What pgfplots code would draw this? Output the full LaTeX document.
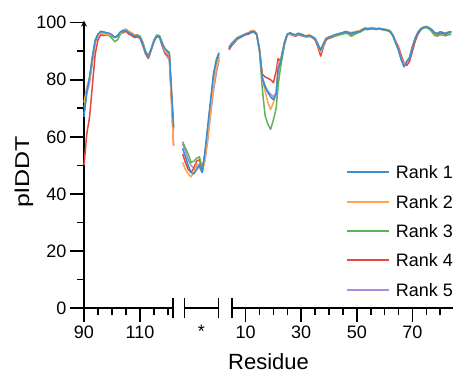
\documentclass[border=0pt]{standalone}
\usepackage{pgfplots}
\pgfplotsset{compat=1.18}
\usepackage{pgfplotstable}
\usepackage{fontspec}
\setmainfont{Liberation Sans}
\definecolor{rankA}{HTML}{3A8DD1}
\definecolor{rankB}{HTML}{FFA552}
\definecolor{rankC}{HTML}{5DB35A}
\definecolor{rankD}{HTML}{E6483F}
\definecolor{rankE}{HTML}{A98FD8}

\pgfplotstableread{
x b o g r p
90 67 72 70 50 68
91 76 77.5 76 61 75
92 81 80 81 67 79
93 88 87 88 78 86
94 93.5 93 94 89 93
95 96 95.5 96 94 95.5
96 97 96.3 96.5 95.8 96.8
97 96.8 96 96 95.5 96.5
98 96.5 96 95.8 95.8 96.3
99 96.3 95.8 95.5 95.5 96
100 95.8 95.5 94.5 95.3 95.5
101 94.8 95 93.3 94.8 94.8
102 95.5 95.5 94 95.2 95.3
103 96.8 96.5 96 96.3 96.5
104 97.2 97.5 97 96.5 97
105 97.3 97.8 97.5 97 97.2
106 96.5 97 96.8 96 96.7
107 96 96.5 96.3 95.5 96
108 95.3 95.8 95.5 94.8 95.2
109 95.5 95.5 95.8 95 95.3
110 95 95 95.3 94.5 94.8
111 92.5 92.8 93.3 92 92.5
112 89.5 89.5 90 89 89.5
113 87.8 88 88.5 87.5 87.8
114 90.5 90.5 91 90.5 90.5
115 93.5 93.5 94 93.5 93.5
116 95.3 95.3 95.7 95.2 95.3
117 95 95 95.5 94.8 94.8
118 92.5 92.5 93 92 91.5
119 90.8 90 90.5 89.5 89
120.5 89.5 88.5 89 88 87
122 63.5 56.8 63 57 62.3
}\segA

\pgfplotstableread{
x b o g r p
0 56 51 58.3 54 57.5
1 53 48.5 56 51 55
2 50 47 54 48.5 52
3 47.5 46 51 47.5 50
4 47 47.5 51.5 49 49
5 48.5 50.5 52.5 51.5 49.5
6 50 49 53 52 50.5
7 47.5 47.5 49 48.5 48
8 55 52 54 53 52
9 64 60 63 62 59
10 73 69 72 71 68
11 82 78 81 80 76
12 87 84 86 85 82
13 89.5 87.5 89 88 87
}\segB

\pgfplotstableread{
x b o g r p
4 91 91.5 91.5 90.5 90.8
5 92.5 92.5 92.8 92 92.2
6 93.5 93.3 93.8 93 93.2
7 94.5 94.5 94.8 94.2 94.3
8 95 95.2 95.3 94.8 94.8
9 95.5 95.6 95.6 95.3 95.3
10 96 96.2 96 95.8 95.8
11 96.3 96.5 96.3 96 96.1
12 96.8 97.2 96.8 96.5 96.6
13 97 97.3 96.8 96.7 96.8
14 96 96.3 95.8 95.8 95.8
15 90.5 90.5 90 90.5 90.5
16 80.5 80.5 77 82 81
17 77.5 76 67.5 81 78
18 75.5 72 64.5 80.5 76
19 74 69.5 62.6 80 75
20 73 72 66 79 74
21 75 75 70 83 75.5
21.7 84 85.5 78 87.5 83
22.5 86 86.5 84 86.3 85.5
24 93 93.5 92.5 93 92.5
25 96 96 95.8 95.8 95.8
26 96.5 96.3 96.3 96 96.2
27 96 95.8 95.8 95.5 95.8
28 95.8 95.8 95.5 95.3 95.5
29 96.3 96.3 96 95.8 96
30 96 96 95.8 95.5 95.8
31 95.5 95.6 95.3 95.2 95.3
32 95.3 95.5 95.3 95 95.2
33 95.5 95.8 95.2 95.3 95.3
34 95 95.2 94.8 94.8 94.8
35 94.5 94.5 94.3 94 94.3
36 92.5 92.5 92.3 91.5 92.3
37 90.3 89.5 90.5 88.3 89.8
38 92.5 92 92.8 91.5 92.3
39 94.5 94.3 94.5 94 94.3
40 95 95 94.8 94.5 94.8
41 95.3 95.3 95 94.8 95
42 95.7 95.8 95.3 95.3 95.5
43 96 96 95.5 95.6 95.8
44 96.3 96.3 95.8 96 96
45 96.5 96.6 96 96.3 96.3
46 96.9 97 96.3 96.6 96.7
47 96.5 96.8 96 96.3 96.5
48 96.3 96.5 95.2 96 96.2
49 96.5 96.8 95.8 96.3 96.4
50 96.8 97 96.3 96.6 96.7
51 96.9 97.2 96.6 96.8 96.8
52 97.5 97.8 97.2 97.3 97.4
53 98 98.3 97.7 97.8 97.9
54 97.8 98 97.6 97.6 97.7
55 98 98.3 97.8 97.9 97.9
56 98 98.2 97.8 97.9 97.9
57 97.8 98 97.6 97.7 97.7
58 98 98.1 97.8 97.9 97.9
59 97.8 97.9 97.6 97.6 97.7
60 97.6 97.8 97.4 97.5 97.5
61 97.4 97.6 97.2 97.3 97.3
62 97 97.2 96.8 96.8 96.9
63 95.5 95.8 95.3 95.6 95.4
64 93 93.3 92.8 93.5 93
65 90.5 90.8 90.3 91.5 90.6
66 87 87.5 87 88.5 87.3
67 84.5 85 85 85.8 84.8
68 86.5 86.5 86.3 85 86.3
69 87.5 87.8 88 86.5 87.5
70 91.5 91.8 91.5 90 91.3
71 94.5 94.8 94.5 93.5 94.3
72 96.5 96.8 96.5 96 96.3
73 97.8 98 97.6 97.5 97.6
74 98.4 98.5 98.2 98.2 98.3
75 98.6 98.7 98.3 98.4 98.5
76 98.2 98.3 97.8 98 98.1
77 97.5 97.6 96.8 97.2 97.3
78 96.5 96.5 95.5 96.2 96.3
79 96.2 96.3 95.3 96 96
80 96.8 96.8 95.8 96.5 96.5
81 96.5 96.6 95.6 96.2 96.3
82 96.2 96.4 95.4 96 96
83 96.7 96.8 95.8 96.5 96.5
84 96.8 96.9 95.9 96.6 96.6
}\segC

\tikzset{brk/.style={line width=1.6pt, black}}
\pgfplotsset{
  seg/.style={
    scale only axis, height=287.3pt, ymin=0, ymax=100.7, clip=false,
    anchor=south west,
    axis x line=bottom,
    axis line style={line width=1.6pt, -, black},
    tick style={line width=1.6pt, black},
    major tick length=14pt, minor tick length=7pt,
    xtick align=outside, ytick align=outside, xtick pos=bottom,
    ticklabel style={font=\fontsize{18}{18}\selectfont},
    /pgf/number format/assume math mode=true,
    every axis plot/.append style={line width=1.5pt, line join=round},
  },
}

\begin{document}
\begin{tikzpicture}
\path[use as bounding box] (0,0) rectangle (453pt,373pt);

% segment 1
\begin{axis}[seg, at={(84pt,65pt)}, width=89pt, xmin=90, xmax=121.8,
  axis y line=left, ytick pos=left, xtick align=outside, ytick align=outside,
  ytick={0,20,40,60,80,100}, minor ytick={10,30,50,70,90},
  xtick={90,110}, minor xtick={95,100,105,115,120}]
  \addplot[color=rankE] table[x=x,y=p] {\segA};
  \addplot[color=rankD] table[x=x,y=r] {\segA};
  \addplot[color=rankC] table[x=x,y=g] {\segA};
  \addplot[color=rankB] table[x=x,y=o] {\segA};
  \addplot[color=rankA] table[x=x,y=b] {\segA};
  \draw[brk] ([yshift=-10pt]axis cs:121.8,0) -- ([yshift=10pt]axis cs:121.8,0);
\end{axis}

% segment 2 (linker)
\begin{axis}[seg, at={(184.3pt,65pt)}, width=34pt, xmin=0.6, xmax=12.74,
  axis y line=none, ytick=\empty, xtick align=outside,
  xtick={6.67}, xticklabels={*}, major x tick style={draw=none}]
  \addplot[color=rankE] table[x=x,y=p] {\segB};
  \addplot[color=rankD] table[x=x,y=r] {\segB};
  \addplot[color=rankC] table[x=x,y=g] {\segB};
  \addplot[color=rankB] table[x=x,y=o] {\segB};
  \addplot[color=rankA] table[x=x,y=b] {\segB};
  \draw[brk] ([yshift=-10pt]axis cs:0.6,0) -- ([yshift=10pt]axis cs:0.6,0);
  \draw[brk] ([yshift=-10pt]axis cs:12.74,0) -- ([yshift=10pt]axis cs:12.74,0);
\end{axis}

% segment 3
\begin{axis}[seg, at={(231.7pt,65pt)}, width=221.3pt, xmin=5, xmax=84.6,
  axis y line=none, ytick=\empty, xtick align=outside,
  xtick={10,30,50,70}, minor xtick={15,20,25,35,40,45,55,60,65,75,80}]
  \addplot[color=rankE] table[x=x,y=p] {\segC};
  \addplot[color=rankD] table[x=x,y=r] {\segC};
  \addplot[color=rankC] table[x=x,y=g] {\segC};
  \addplot[color=rankB] table[x=x,y=o] {\segC};
  \addplot[color=rankA] table[x=x,y=b] {\segC};
  \draw[brk] ([yshift=-10pt]axis cs:5,0) -- ([yshift=10pt]axis cs:5,0);
\end{axis}

% legend
\foreach \c/\t/\yy in {rankA/Rank 1/201, rankB/Rank 2/171, rankC/Rank 3/142, rankD/Rank 4/113, rankE/Rank 5/83}{
  \fill[\c] (347pt,\yy pt-1pt) rectangle (389pt,\yy pt+1pt);
  \node[anchor=base west, inner sep=0pt, font=\fontsize{18}{18}\selectfont] at (395.7pt,\yy pt-6.4pt) {\t};
}

\node[anchor=base] at (268.5pt,4pt) {\fontsize{22}{22}\selectfont Residue};
\node[rotate=90, anchor=center] at (24pt,201pt) {\fontsize{20}{20}\selectfont\scalebox{1.25}[1]{plDDT}};
\end{tikzpicture}
\end{document}
